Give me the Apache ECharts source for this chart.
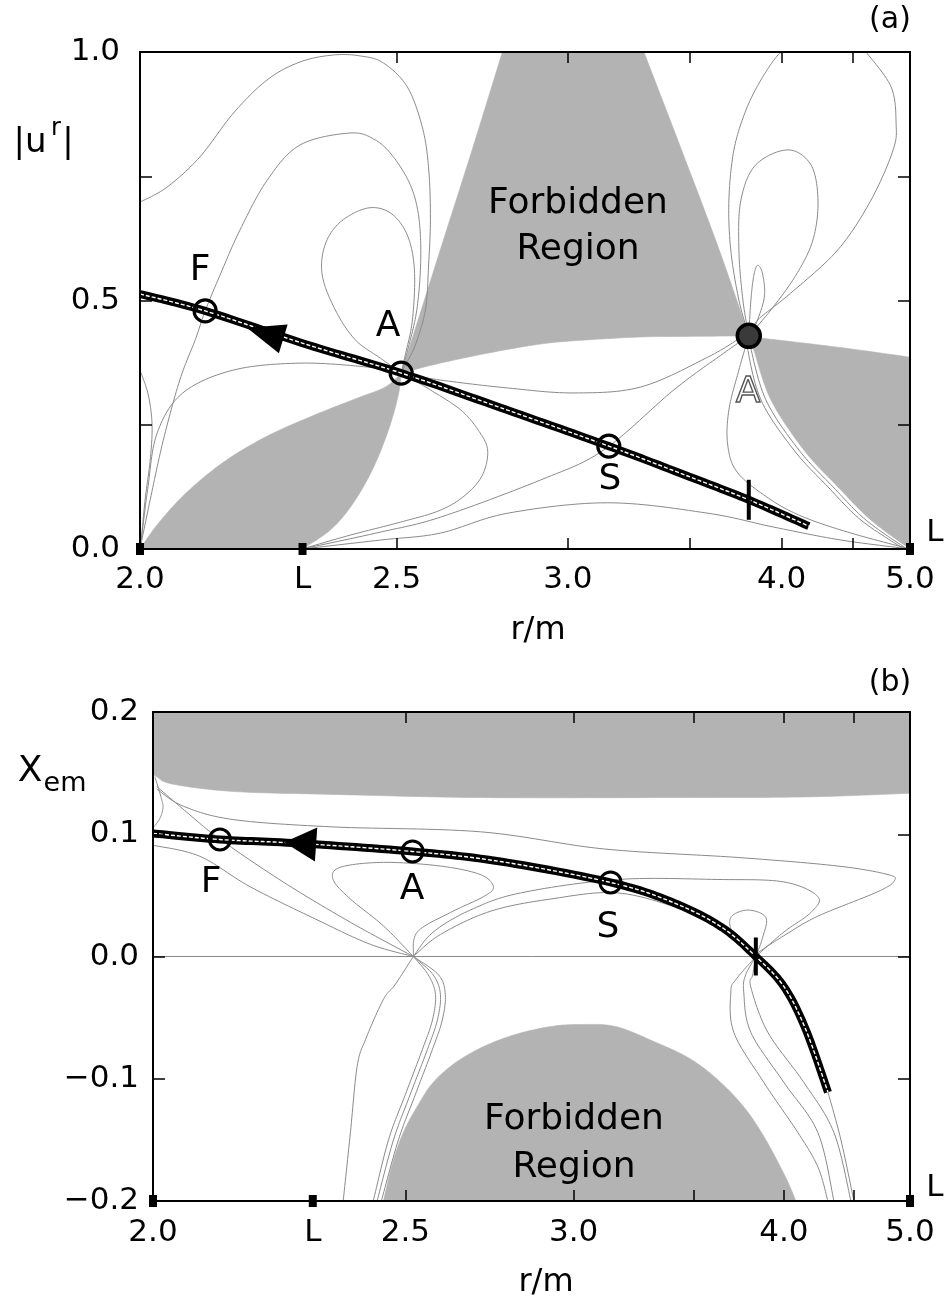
<!DOCTYPE html>
<html><head><meta charset="utf-8">
<script src="https://cdn.jsdelivr.net/npm/echarts@6/dist/echarts.min.js"></script>
<style>html,body{margin:0;padding:0;background:#fff}#c{width:947px;height:1303px}</style>
</head><body><div id="c"></div>
<script>
// ---------- axis definitions (r/m axis is linear in 1/r) ----------
const rTicks = [2.5, 3.0, 3.5, 4.0, 4.5];
const rLabels = [2.0, 2.5, 3.0, 4.0, 5.0];
const rLight = 2.29;            // inner light surface "L"
const rMin = 2.0, rMax = 5.0;
const yTicksA = [0, 0.5, 1.0];
const yTicksB = [-0.2, -0.1, 0, 0.1, 0.2];

// ---------- panel (a): |u^r| ----------
// forbidden regions, given as boundary edges [r, |u^r|]
const forbidA_top = [
 [[2.511,0.354],[2.549,0.45],[2.611,0.602],[2.697,0.80],[2.787,1.0]],
 [[2.787,1.0],[3.293,1.0]],
 [[3.293,1.0],[3.46,0.803],[3.645,0.602],[3.805,0.429]],
 [[3.805,0.429],[3.55,0.428],[3.280,0.4266],[3.05,0.42],[2.908,0.4125],[2.75,0.395],[2.611,0.374],[2.511,0.354]]
];
const forbidA_lens = [
 [[2.0,0],[2.028,0.050],[2.073,0.111],[2.137,0.173],[2.216,0.225],[2.306,0.266],[2.403,0.302],[2.473,0.326],[2.511,0.354]],
 [[2.511,0.354],[2.504,0.310],[2.480,0.239],[2.442,0.159],[2.396,0.089],[2.348,0.038],[2.289,0]],
 [[2.289,0],[2.0,0]]
];
const forbidA_right = [
 [[3.805,0.429],[3.875,0.4245],[4.384,0.406],[5.0,0.386]],
 [[5.0,0.386],[5.0,0]],
 [[5.0,0],[4.647,0.058],[4.384,0.125],[4.144,0.199],[3.934,0.300],[3.834,0.400],[3.805,0.429]]
];

const curvesA = [
 [[2.0,0.698],[2.043,0.728],[2.098,0.789],[2.157,0.877],[2.220,0.944],[2.285,0.980],[2.355,0.994],[2.415,0.992],[2.468,0.978],[2.526,0.930],[2.564,0.849],[2.580,0.769],[2.585,0.668],[2.580,0.567],[2.572,0.481],[2.546,0.410],[2.521,0.370],[2.511,0.354]],
 [[2.0,0],[2.016,0.099],[2.037,0.219],[2.064,0.340],[2.090,0.421],[2.107,0.479],[2.133,0.551],[2.169,0.642],[2.220,0.742],[2.285,0.813],[2.392,0.837],[2.449,0.823],[2.492,0.789],[2.534,0.732],[2.555,0.668],[2.560,0.581],[2.550,0.481],[2.527,0.400],[2.511,0.354]],
 [[2.511,0.354],[2.461,0.384],[2.403,0.421],[2.359,0.481],[2.331,0.551],[2.337,0.612],[2.370,0.658],[2.431,0.686],[2.485,0.676],[2.526,0.632],[2.544,0.561],[2.539,0.461],[2.521,0.390],[2.511,0.354]],
 [[2.002,0.018],[2.012,0.12],[2.027,0.233],[2.069,0.314],[2.157,0.360],[2.285,0.374],[2.431,0.366],[2.511,0.354]],
 [[2.0,0.360],[2.013,0.310],[2.019,0.249],[2.016,0.179],[2.008,0.099],[2.002,0.018]],
 [[2.511,0.354],[2.611,0.340],[2.803,0.324],[3.021,0.314],[3.280,0.326],[3.587,0.386],[3.761,0.425],[3.805,0.429]],
 [[2.511,0.354],[2.585,0.320],[2.666,0.280],[2.716,0.239],[2.743,0.199],[2.728,0.149],[2.680,0.109],[2.611,0.078],[2.509,0.054],[2.392,0.028],[2.289,0]],
 [[2.289,0],[2.461,0.034],[2.611,0.064],[2.908,0.139],[3.131,0.199],[3.424,0.320],[3.654,0.390],[3.805,0.429]],
 [[2.289,0],[2.461,0.018],[2.611,0.032],[2.803,0.072],[3.147,0.093],[3.587,0.072],[3.952,0.044],[4.408,0.018],[5.0,0]],
 [[3.805,0.429],[3.750,0.360],[3.696,0.280],[3.690,0.209],[3.744,0.153],[3.934,0.099],[4.144,0.064],[4.485,0.032],[5.0,0]],
 [[3.805,0.429],[3.812,0.410],[3.904,0.300],[4.111,0.199],[4.348,0.125],[4.606,0.058],[4.97,0]],
 [[3.805,0.429],[3.795,0.41],[3.875,0.3],[4.078,0.199],[4.311,0.125],[4.565,0.058],[4.943,0]],
 [[3.805,0.429],[3.750,0.501],[3.706,0.602],[3.696,0.702],[3.723,0.803],[3.789,0.883],[3.875,0.944],[3.977,0.994],[4.027,1.0]],
 [[4.606,1.0],[4.822,0.930],[4.868,0.857],[4.841,0.803],[4.647,0.702],[4.384,0.602],[4.058,0.515],[3.857,0.461],[3.805,0.429]],
 [[3.805,0.429],[3.772,0.501],[3.750,0.602],[3.761,0.702],[3.845,0.773],[4.039,0.803],[4.191,0.773],[4.240,0.702],[4.205,0.622],[4.091,0.551],[3.934,0.481],[3.805,0.429]],
 [[3.805,0.429],[3.817,0.501],[3.834,0.551],[3.857,0.571],[3.886,0.551],[3.892,0.501],[3.82,0.429]]
];
const solutionA = [[2.0,0.513],[2.107,0.479],[2.3,0.411],[2.511,0.354],[2.8,0.280],[3.151,0.207],[3.5,0.145],[3.805,0.099],[4.177,0.046]];
const openPointsA = [[2.107,0.479],[2.511,0.354],[3.151,0.207]];
const outerA_A = [[3.805,0.429]];
const markI_A = [[3.805,0.099]];
const arrowA = [[2.216,0.434]];
const axisMarksA = [[2.0,0],[2.29,0],[5.0,0]];

// ---------- panel (b): X_em ----------
const forbidB_top = [
 [[2.0,0.2],[2.0,0.15]],
 [[2.0,0.15],[2.006,0.147],[2.032,0.141],[2.136,0.135],[2.333,0.1326],[2.701,0.130],[3.392,0.130],[4.130,0.1305],[5.0,0.1335]],
 [[5.0,0.1335],[5.0,0.2]],
 [[5.0,0.2],[2.0,0.2]]
];
const forbidB_dome = [
 [[2.447,-0.2],[2.468,-0.170],[2.495,-0.144],[2.533,-0.121],[2.571,-0.103],[2.630,-0.087],[2.710,-0.0737],[2.806,-0.0638],[2.920,-0.0573],[3.025,-0.0556],[3.158,-0.0573],[3.316,-0.0695],[3.486,-0.084],[3.636,-0.103],[3.772,-0.125],[3.889,-0.150],[4.013,-0.181],[4.078,-0.2]],
 [[4.078,-0.2],[2.447,-0.2]]
];

const curvesB = [
 [[2.0,0],[5.0,0]],
 [[2.003,0.147],[2.013,0.13],[2.016,0.122],[2.011,0.113],[2.0,0.105]],
 [[2.006,0.139],[2.055,0.118],[2.112,0.096],[2.230,0.061],[2.371,0.028],[2.52,0]],
 [[2.0,0.091],[2.077,0.082],[2.167,0.057],[2.299,0.030],[2.416,0.010],[2.52,0]],
 [[2.006,0.137],[2.049,0.123],[2.136,0.112],[2.333,0.106],[2.701,0.102],[3.111,0.088],[3.728,0.081],[4.375,0.074],[4.791,0.067],[4.85,0.062],[4.70,0.053],[4.228,0.033],[4.013,0.018],[3.841,0.003],[3.830,0]],
 [[2.52,0],[2.571,0.020],[2.672,0.038],[2.822,0.052],[3.166,0.063],[3.621,0.063],[4.0,0.061],[4.228,0.049],[4.179,0.036],[4.0,0.020],[3.830,0]],
 [[2.52,0],[2.590,0.018],[2.730,0.037],[2.920,0.047],[3.166,0.052],[3.452,0.038],[3.706,0.020],[3.830,0]],
 [[2.52,0],[2.447,0.025],[2.371,0.047],[2.333,0.063],[2.349,0.073],[2.447,0.077],[2.590,0.074],[2.701,0.067],[2.739,0.057],[2.710,0.049],[2.617,0.036],[2.530,0.020],[2.52,0]],
 [[3.830,0],[3.706,0.018],[3.690,0.032],[3.784,0.038],[3.889,0.032],[3.871,0.016],[3.830,0]],
 [[2.52,0],[2.475,-0.023],[2.447,-0.035],[2.405,-0.068],[2.386,-0.090],[2.371,-0.144],[2.355,-0.2]],
 [[2.52,0],[2.571,-0.015],[2.590,-0.031],[2.582,-0.052],[2.556,-0.076],[2.512,-0.113],[2.471,-0.150],[2.432,-0.2]],
 [[2.52,0],[2.558,-0.015],[2.577,-0.031],[2.569,-0.052],[2.543,-0.076],[2.500,-0.113],[2.459,-0.150],[2.423,-0.2]],
 [[2.52,0],[2.585,-0.015],[2.603,-0.031],[2.595,-0.052],[2.569,-0.076],[2.525,-0.113],[2.483,-0.150],[2.442,-0.2]],
 [[3.830,0],[3.717,-0.019],[3.690,-0.029],[3.706,-0.062],[3.877,-0.103],[4.091,-0.144],[4.228,-0.172],[4.300,-0.2]],
 [[3.830,0],[3.772,-0.015],[3.761,-0.029],[3.801,-0.062],[4.0,-0.103],[4.228,-0.144],[4.345,-0.2]],
 [[3.830,0],[3.812,-0.015],[3.801,-0.025],[3.901,-0.062],[4.131,-0.103],[4.345,-0.144],[4.476,-0.2]],
 [[4.301,-0.111],[4.398,-0.150],[4.5,-0.2]]
];
const solutionB = [[2.0,0.1007],[2.112,0.0957],[2.264,0.0925],[2.518,0.0859],[2.760,0.0777],[3.138,0.0606],[3.392,0.045],[3.636,0.0245],[3.830,0],[4.0,-0.0245],[4.144,-0.0597],[4.301,-0.111]];
const openPointsB = [[2.112,0.0957],[2.518,0.0859],[3.138,0.0606]];
const markI_B = [[3.830,0]];
const arrowB = [[2.264,0.0925]];
const axisMarksB = [[2.0,-0.2],[2.29,-0.2],[5.0,-0.2]];

// ---------- build ----------
const FONT = 'DejaVu Sans';
const GRAY = '#b3b3b3', THIN = '#8a8a8a';
const T = arr => arr.map(p => [1 / p[0], p[1]]);

// smooth rendering of a polyline of pixel points (Catmull-Rom → cubic Bézier, sampled)
function smoothPix(pts, n) {
  if (pts.length < 3) return pts.slice();
  const out = [pts[0]];
  for (let i = 0; i < pts.length - 1; i++) {
    const p0 = pts[i - 1] || pts[i], p1 = pts[i], p2 = pts[i + 1], p3 = pts[i + 2] || pts[i + 1];
    const c1 = [p1[0] + (p2[0] - p0[0]) / 6, p1[1] + (p2[1] - p0[1]) / 6];
    const c2 = [p2[0] - (p3[0] - p1[0]) / 6, p2[1] - (p3[1] - p1[1]) / 6];
    for (let k = 1; k <= n; k++) {
      const t = k / n, u = 1 - t;
      out.push([
        u*u*u*p1[0] + 3*u*u*t*c1[0] + 3*u*t*t*c2[0] + t*t*t*p2[0],
        u*u*u*p1[1] + 3*u*u*t*c1[1] + 3*u*t*t*c2[1] + t*t*t*p2[1]
      ]);
    }
  }
  return out;
}
const toPix = (api, arr) => arr.map(p => api.coord([1 / p[0], p[1]]));

function xAxes(gi) {
  const base = {
    type: 'value', gridIndex: gi, inverse: true, min: 1 / rMax, max: 1 / rMin, z: 10,
    axisLine: { show: true, onZero: false, lineStyle: { color: '#000', width: 2 } },
    axisTick: { show: true, inside: true, length: 11, lineStyle: { color: '#000', width: 1.5 }, customValues: rTicks.map(r => 1 / r) },
    splitLine: { show: false }
  };
  return [
    Object.assign({}, base, { position: 'bottom',
      axisLabel: { show: true, margin: gi ? 16 : 15, fontSize: 31, fontFamily: FONT, color: '#000',
        customValues: rLabels.concat([rLight]).map(r => 1 / r),
        formatter: v => Math.abs(v - 1 / rLight) < 1e-6 ? 'L' : (1 / v).toFixed(1) } }),
    Object.assign({}, base, { position: 'top', axisLabel: { show: false } })
  ];
}
function yAxes(gi, min, max, interval, labelVals, margin) {
  const base = {
    type: 'value', gridIndex: gi, min, max, interval, z: 10,
    axisLine: { show: true, onZero: false, lineStyle: { color: '#000', width: 2 } },
    axisTick: { show: true, inside: true, length: 12, lineStyle: { color: '#000', width: 1.5 } },
    splitLine: { show: false }
  };
  return [
    Object.assign({}, base, { position: 'left',
      axisLabel: { show: true, margin, fontSize: 31, fontFamily: FONT, color: '#000',
        customValues: labelVals, formatter: v => v.toFixed(1).replace('-', '\u2212') } }),
    Object.assign({}, base, { position: 'right', axisLabel: { show: false } })
  ];
}

function region(edges, gi) {
  return { type: 'custom', coordinateSystem: 'cartesian2d', xAxisIndex: gi * 2, yAxisIndex: gi * 2,
    data: [[0.35, 0]], clip: true, z: 1, silent: true,
    renderItem: (params, api) => {
      let pts = [];
      edges.forEach(e => { const s = smoothPix(toPix(api, e), 12); pts = pts.concat(pts.length ? s.slice(1) : s); });
      return { type: 'polygon', shape: { points: pts }, style: { fill: GRAY, stroke: GRAY, lineWidth: 0.6 } };
    } };
}
function curve(arr, gi, style, z) {
  return { type: 'custom', coordinateSystem: 'cartesian2d', xAxisIndex: gi * 2, yAxisIndex: gi * 2,
    data: [[0.35, 0]], clip: true, z, silent: true,
    renderItem: (params, api) => ({ type: 'polyline', shape: { points: smoothPix(toPix(api, arr), 14) },
      style: Object.assign({ fill: null }, style) }) };
}
function scat(arr, gi, opts) {
  return Object.assign({ type: 'scatter', xAxisIndex: gi * 2, yAxisIndex: gi * 2, data: T(arr), silent: true, z: 6, clip: false,
    emphasis: { disabled: true } }, opts);
}
const thinStyle = { stroke: THIN, lineWidth: 1 };
const thickStyle = { stroke: '#000', lineWidth: 8, lineJoin: 'round' };
const dashStyle = { stroke: '#fff', lineWidth: 1.4, lineDash: [4, 2] };

const series = [
  region(forbidA_top, 0), region(forbidA_lens, 0), region(forbidA_right, 0),
  region(forbidB_top, 1), region(forbidB_dome, 1),
  ...curvesA.map(c => curve(c, 0, thinStyle, 2)),
  ...curvesB.map(c => curve(c, 1, thinStyle, 2)),
  curve(solutionA, 0, thickStyle, 3), curve(solutionA, 0, dashStyle, 4),
  curve(solutionB, 1, thickStyle, 3), curve(solutionB, 1, dashStyle, 4),
  scat(openPointsA, 0, { symbol: 'circle', symbolSize: 22, itemStyle: { color: 'rgba(255,255,255,0)', borderColor: '#000', borderWidth: 3.2, opacity: 1 } }),
  scat(outerA_A, 0, { symbol: 'circle', symbolSize: 23, itemStyle: { color: '#3a3a3a', borderColor: '#000', borderWidth: 3.5, opacity: 1 } }),
  scat(openPointsB, 1, { symbol: 'circle', symbolSize: 21, itemStyle: { color: 'rgba(255,255,255,0)', borderColor: '#000', borderWidth: 3, opacity: 1 } }),
  scat(markI_A, 0, { symbol: 'rect', symbolSize: [4, 40], itemStyle: { color: '#000', opacity: 1 } }),
  scat(markI_B, 1, { symbol: 'rect', symbolSize: [4, 38], itemStyle: { color: '#000', opacity: 1 } }),
  scat(arrowA, 0, { symbol: 'triangle', symbolSize: [30, 38], symbolRotate: 73, itemStyle: { color: '#000', opacity: 1 } }),
  scat(arrowB, 1, { symbol: 'triangle', symbolSize: [34, 32], symbolRotate: 86, itemStyle: { color: '#000', opacity: 1 } }),
  scat(axisMarksA, 0, { symbol: 'rect', symbolSize: [8, 12], itemStyle: { color: '#000', opacity: 1 }, z: 11 }),
  scat(axisMarksB, 1, { symbol: 'rect', symbolSize: [8, 12], itemStyle: { color: '#000', opacity: 1 }, z: 11 })
];

function txt(text, x, y, size, extra) {
  return { type: 'text', x, y, z: 100, silent: true,
    style: Object.assign({ text, fontSize: size, fontFamily: FONT, fill: '#000',
      align: 'center', verticalAlign: 'middle', textAlign: 'center', textVerticalAlign: 'middle' }, extra || {}) };
}

const graphic = [
  txt('(a)', 890, 20, 30), txt('(b)', 890, 683, 30),
  txt('|u', 30, 143, 34), txt('r', 56, 129, 24), txt('|', 68, 143, 34),
  txt('X', 30, 772, 36), txt('em', 65, 784, 27),
  txt('r/m', 538, 631, 32), txt('r/m', 546, 1283, 32),
  txt('L', 935, 533, 31), txt('L', 935, 1188, 31),
  txt('F', 200, 271, 36), txt('A', 388, 327, 36), txt('S', 610, 480, 36),
  txt('A', 748, 393, 36, { fill: 'rgba(255,255,255,0)', stroke: '#555', lineWidth: 1.4 }),
  txt('F', 211, 883, 36), txt('A', 412, 890, 36), txt('S', 608, 928, 36),
  txt('Forbidden\nRegion', 578, 227, 36, { lineHeight: 46 }),
  txt('Forbidden\nRegion', 574, 1144, 36, { lineHeight: 48 })
];

const chart = echarts.init(document.getElementById('c'), null, { renderer: 'canvas' });
chart.setOption({
  animation: false,
  backgroundColor: '#fff',
  grid: [
    { left: 140, right: 37, top: 52, height: 497 },
    { left: 153, right: 37, top: 712, height: 489 }
  ],
  xAxis: [...xAxes(0), ...xAxes(1)],
  yAxis: [...yAxes(0, 0, 1, 0.25, yTicksA, 20), ...yAxes(1, -0.2, 0.2, 0.1, yTicksB, 14)],
  series,
  graphic
});
</script></body></html>
